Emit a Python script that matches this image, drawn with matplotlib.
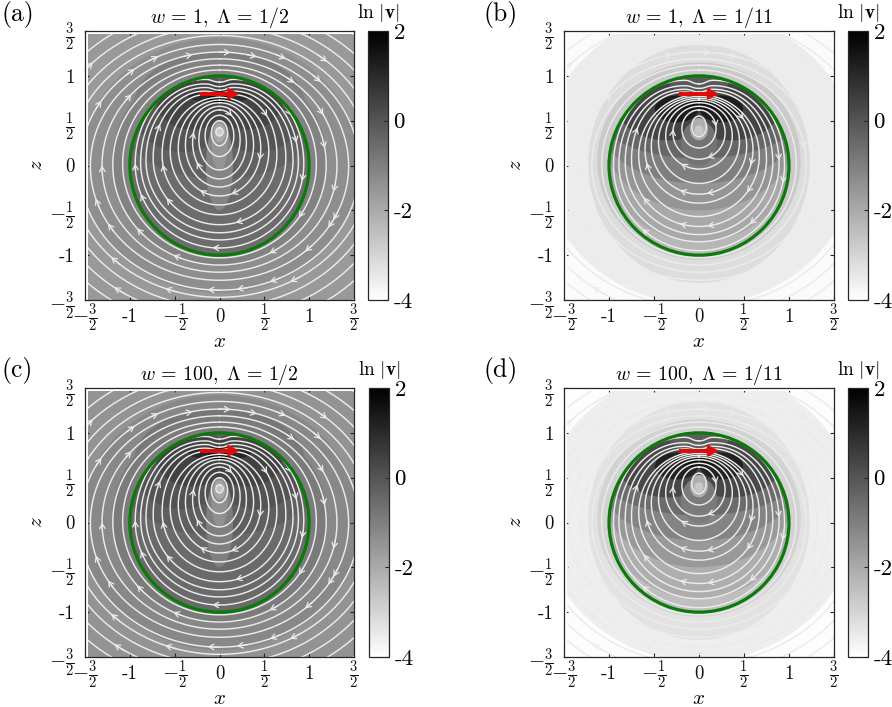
import numpy as np
import matplotlib
matplotlib.use("Agg")
import matplotlib.pyplot as plt
from matplotlib.cm import ScalarMappable
from matplotlib.colors import Normalize
from matplotlib.patches import Circle

plt.rcParams['font.family'] = ['cmr10', 'DejaVu Sans']
plt.rcParams['mathtext.fontset'] = 'cm'
plt.rcParams['axes.formatter.use_mathtext'] = True

# --- DATA ---
titles = [r'$w\,=\,1,\;\Lambda\,=\,1/2$', r'$w\,=\,1,\;\Lambda\,=\,1/11$',
          r'$w\,=\,100,\;\Lambda\,=\,1/2$', r'$w\,=\,100,\;\Lambda\,=\,1/11$']
panel_tags = ['(a)', '(b)', '(c)', '(d)']
tick_vals = [-1.5, -1, -0.5, 0, 0.5, 1, 1.5]
x_tick_text = [r'$-\frac{3}{2}$', '-1', r'$-\frac{1}{2}$', '0', r'$\frac{1}{2}$', '1', r'$\frac{3}{2}$']
cbar_vals = [-4, -2, 0, 2]
cbar_text = ['-4', '-2', '0', '2']

# streamlines outside the drop
out_top = [1.065, 1.12, 1.19, 1.265, 1.35, 1.45, 1.55, 1.66, 1.78, 1.92]
out_bottom = [-1.03, -1.11, -1.19, -1.28, -1.39, -1.47, -1.58, -1.70, -1.83, -1.97]
out_half = [1.08, 1.19, 1.31, 1.44, 1.56, 1.68, 1.80, 1.95, 2.10, 2.30]

# streamlines inside the drop, Lambda = 1/2
in_top_wide = [0.42, 0.50, 0.56, 0.62, 0.66, 0.70, 0.73, 0.76, 0.79, 0.83, 0.87, 0.91, 0.96]
in_bottom_wide = [0.33, 0.22, 0.10, -0.05, -0.15, -0.24, -0.34, -0.44, -0.55, -0.66, -0.75, -0.83, -0.92]
in_half_wide = [0.04, 0.09, 0.16, 0.23, 0.30, 0.38, 0.46, 0.55, 0.64, 0.74, 0.82, 0.88, 0.94]
in_dip_wide = [0, 0, 0, 0, 0, 0, 0, 0, 0.01, 0.02, 0.03, 0.03, 0.03]

# streamlines inside the drop, Lambda = 1/11
in_top_thin = [0.55, 0.62, 0.66, 0.70, 0.73, 0.75, 0.77, 0.79, 0.82, 0.85, 0.89, 0.95]
in_bottom_thin = [0.32, 0.195, 0.07, -0.04, -0.20, -0.32, -0.42, -0.57, -0.68, -0.77, -0.85, -0.95]
in_half_thin = [0.08, 0.19, 0.29, 0.37, 0.45, 0.53, 0.60, 0.67, 0.75, 0.82, 0.89, 0.95]
in_dip_thin = [0, 0, 0, 0, 0, 0, 0, 0, 0.02, 0.03, 0.03, 0.04]

# arrowheads on the streamlines
arrow_out_x = [-1.39, -0.96, -0.66, -0.31, 0.04, 0.40, 0.78, 1.21, 1.13, -1.02, -1.35, 1.16, 1.21,
               -1.31, -1.33, 1.27, -1.28, 1.23, -1.24, 1.25, -0.61, -1.22, -0.16, 0.19, 0.55, 0.79]
arrow_out_z = [1.12, 1.10, 1.18, 1.20, 1.23, 1.23, 1.21, 1.12, 0.90, 0.80, 0.74, 0.54, 0.19,
               0.02, -0.33, -0.27, -0.70, -0.57, -1.05, -0.72, -1.41, -1.41, -1.37, -1.36, -1.33, -1.33]
arrow_wide_x = [0.82, 0.82, 0.51, 0.84, 0.15, 0.49, -1.00, -0.59, -0.29, -0.66, -0.29, 0.92, -0.92,
                -0.57, -0.22, 0.12, -0.92, 0.19, 0.92, -0.51, 0.56, 0.92, -0.07]
arrow_wide_z = [0.88, 0.56, 0.54, 0.27, 0.56, 0.06, 0.02, 0.02, 0.02, 0.47, 0.38, -0.18, -0.35,
                -0.35, -0.27, -0.31, -0.68, -0.63, -0.61, -1.02, -1.00, -0.92, -0.96]
arrow_thin_x = [-0.62, -0.66, -0.30, 0.16, 0.51, 0.09, -0.19, 0.55, 0.86, 0.92, -0.60, -0.21, 0.09,
                0.55, -0.19, 0.09, 0.55, -0.62]
arrow_thin_z = [0.02, 0.41, 0.41, 0.43, 0.52, 0.10, 0.02, 0.02, 0.06, -0.20, -0.33, -0.27, -0.30,
                -0.30, -0.62, -0.64, -0.66, -0.68]

# grey bands of ln|v|, Lambda = 1/2 (outside, then clipped to the drop)
band_out_top_wide = [3.0, 1.42, 1.27, 1.18]
band_out_bottom_wide = [-3.0, -1.42, 0.10, -1.12]
band_out_half_wide = [3.0, 1.55, 0.95, 1.20]
band_out_a = [-1.60, -1.35, -0.95, -1.05]
band_out_c = [-1.45, -1.20, -0.80, -0.90]
band_in_x_wide = [0, 0, -0.42, 0.42, -0.30, 0.30, 0, 0, 0, 0, 0, 0]
band_in_top_wide = [1.10, 1.10, 1.10, 1.10, 1.00, 1.00, 0.85, 0.79, 0.50, 0.50, 0.47, 0.42]
band_in_bottom_wide = [-1.10, -0.15, 0.15, 0.15, 0.40, 0.40, 0.70, 0.70, -0.50, -0.05, 0.26, 0.32]
band_in_half_wide = [1.10, 1.10, 0.55, 0.55, 0.40, 0.40, 0.35, 0.14, 0.15, 0.09, 0.065, 0.03]
band_in_a = [-0.55, -0.30, 0.00, 0.00, 0.40, 0.40, 1.00, 2.00, -1.10, -1.50, -2.00, -2.80]
band_in_c = [-0.50, -0.25, 0.05, 0.05, 0.45, 0.45, 1.10, 2.00, -1.00, -1.40, -1.90, -2.60]

# grey bands of ln|v|, Lambda = 1/11
band_out_top_thin = [3.0, 1.70, 1.35, 1.15]
band_out_bottom_thin = [-3.0, -1.55, -1.31, -1.05]
band_out_half_thin = [3.0, 1.75, 1.23, 1.13]
band_out_b = [-3.90, -3.55, -3.20, -2.75]
band_out_d = [-3.95, -3.60, -3.30, -2.95]
band_in_x_thin = [0, 0, 0, 0, 0, -0.35, 0.35, 0, -0.25, 0.25, 0, 0, 0, 0]
band_in_top_thin = [1.10, 1.10, 1.10, 1.10, 1.10, 1.00, 1.00, 1.10, 0.78, 0.78, 0.78, 0.50, 0.53, 0.45]
band_in_bottom_thin = [-1.10, -0.85, -0.50, -0.20, 0.08, 0.28, 0.28, 0.80, 0.48, 0.48, 0.62, 0.00, 0.28, 0.33]
band_in_half_thin = [1.10, 1.05, 1.05, 1.10, 1.15, 0.55, 0.55, 0.34, 0.24, 0.24, 0.30, 0.20, 0.10, 0.05]
band_in_b = [-2.30, -1.95, -1.50, -1.00, -0.40, 0.40, 0.40, -0.10, 1.30, 1.30, 1.60, -0.70, -2.10, -2.70]
band_in_d = [-2.50, -2.10, -1.60, -1.10, -0.55, 0.30, 0.30, -0.20, 1.20, 1.20, 1.60, -0.90, -2.10, -2.70]

# red swimmer
swim_x = [-0.22, 0.22]
swim_z = 0.80

norm = Normalize(-4, 2)
cmap = plt.get_cmap('gray_r')
dark = '#262626'


def bezier(p0, p1, p2, p3, n=40):
    t = np.linspace(0, 1, n)[:, None]
    p0, p1, p2, p3 = map(np.array, (p0, p1, p2, p3))
    return (1-t)**3*p0 + 3*(1-t)**2*t*p1 + 3*(1-t)*t**2*p2 + t**3*p3


def egg(xc, top, bottom, half, dip=0):
    # closed loop through the top, widest and bottom readings
    mid = (top + bottom) / 2
    d = min(0.16, half / 2) if dip > 0 else 0
    parts = []
    if dip > 0:
        parts.append(bezier((0, top-dip), (d*0.5, top-dip), (d*0.5, top), (d, top), 12))
    parts.append(bezier((d, top), (d+0.56*(half-d), top), (half, mid+0.56*(top-mid)), (half, mid)))
    parts.append(bezier((half, mid), (half, mid-0.55*(mid-bottom)), (0.55*half, bottom), (0, bottom)))
    right = np.vstack(parts)
    left = right[::-1][1:] * [-1, 1]
    pts = np.vstack([right, left])
    return pts[:, 0] + xc, pts[:, 1]


def draw_panel(ax, cax, idx, out_vals, in_vals, geom):
    ot, ob, oh, ix, it, ib, ih, st, sb, sh, sd, ax_x, ax_z = geom
    for t, b, h, v in zip(ot, ob, oh, out_vals):
        x, z = egg(0, t, b, h)
        ax.fill(x, z, color=cmap(norm(v)), lw=0, zorder=1)
    drop_clip = Circle((0, 0), 1.0, transform=ax.transData)
    for xc, t, b, h, v in zip(ix, it, ib, ih, in_vals):
        x, z = egg(xc, t, b, h)
        for p in ax.fill(x, z, color=cmap(norm(v)), lw=0, zorder=1.1):
            p.set_clip_path(drop_clip)

    loops = []
    for t, b, h in zip(out_top, out_bottom, out_half):
        loops.append(egg(0, t, b, h))
    for t, b, h, d in zip(st, sb, sh, sd):
        loops.append(egg(0, t, b, h, d))
    for x, z in loops:
        ax.plot(x, z, color='#ebebeb', lw=1.05, zorder=2, solid_capstyle='round')

    # arrowheads snap on the nearest streamline
    for px, pz in zip(arrow_out_x + ax_x, arrow_out_z + ax_z):
        best = min(loops, key=lambda c: np.min((c[0]-px)**2 + (c[1]-pz)**2))
        k = int(np.argmin((best[0]-px)**2 + (best[1]-pz)**2))
        k = max(k, 2)
        ax.annotate('', xy=(best[0][k], best[1][k]), xytext=(best[0][k-2], best[1][k-2]),
                    arrowprops=dict(arrowstyle='->,head_length=0.35,head_width=0.2', lw=0.9,
                                    color='#ebebeb', shrinkA=0, shrinkB=0), zorder=2.1)

    # thin white strip left and on top, where the field stops
    ax.axvspan(-1.5, -1.47, color='white', lw=0, zorder=2.5)
    ax.axhspan(1.47, 1.5, color='white', lw=0, zorder=2.5)

    ax.add_patch(Circle((0, 0), 1.0, fill=False, ec='#0b7a0b', lw=2.3, zorder=3))
    ax.plot([swim_x[0], swim_x[1]-0.05], [swim_z, swim_z], color='#e00c0c', lw=2.9, zorder=4,
            solid_capstyle='butt')
    ax.annotate('', xy=(swim_x[1], swim_z), xytext=(swim_x[1]-0.2, swim_z),
                arrowprops=dict(arrowstyle='-|>,head_length=0.7,head_width=0.38', lw=1.0,
                                color='#e00c0c', shrinkA=0, shrinkB=0), zorder=4)

    ax.set_xlim(-1.5, 1.5)
    ax.set_ylim(-1.5, 1.5)
    ax.set_xticks(tick_vals)
    ax.set_yticks(tick_vals)
    ax.set_xticklabels(x_tick_text)
    ax.set_yticklabels(x_tick_text)
    ax.tick_params(direction='in', length=3, width=0.8, color=dark, top=True, right=True,
                   labelsize=13.5, labelcolor='#111111')
    ax.tick_params(axis='x', pad=12.5)
    ax.tick_params(axis='y', pad=7.5)
    for lab in ax.get_xticklabels():
        lab.set_va('center')
    for lab in ax.get_xticklabels() + ax.get_yticklabels():
        if 'frac' in lab.get_text():
            lab.set_fontsize(15)
    for s in ax.spines.values():
        s.set_color(dark)
        s.set_linewidth(0.9)
        s.set_zorder(6)
    ax.set_xlabel('$x$', fontsize=15, va='center')
    ax.set_ylabel('$z$', fontsize=15, va='center')
    ax.xaxis.set_label_coords(0.5, -0.155)
    ax.yaxis.set_label_coords(-0.178, 0.5)
    ax.set_title(titles[idx], fontsize=14.3, pad=6)

    cb = ax.figure.colorbar(ScalarMappable(norm=norm, cmap=cmap), cax=cax)
    cb.set_ticks(cbar_vals)
    cb.set_ticklabels(cbar_text)
    cb.ax.tick_params(direction='in', length=3, width=0.8, color=dark, labelsize=16.5, pad=4)
    cb.outline.set_edgecolor(dark)
    cb.outline.set_linewidth(0.9)
    cax.text(0.5, 1.068, r'$\ln\,|\mathbf{v}|$', transform=cax.transAxes, ha='center', va='center',
             fontsize=14)


W, H = 892, 707
fig = plt.figure(figsize=(W/100, H/100), dpi=100)


def box(l, r, t, b):
    return [l/W, 1-b/H, (r-l)/W, (b-t)/H]


ax_boxes = [(85, 354, 31, 300), (564, 834, 31, 300), (85, 354, 388, 657), (564, 834, 388, 657)]
cb_boxes = [(368, 388, 31, 300), (848, 868, 31, 300), (369, 389, 388, 657), (848, 868, 388, 657)]
tag_pos = [(1, 15), (484, 15), (1, 371), (484, 371)]

wide = (band_out_top_wide, band_out_bottom_wide, band_out_half_wide, band_in_x_wide, band_in_top_wide,
        band_in_bottom_wide, band_in_half_wide, in_top_wide, in_bottom_wide, in_half_wide, in_dip_wide,
        arrow_wide_x, arrow_wide_z)
thin = (band_out_top_thin, band_out_bottom_thin, band_out_half_thin, band_in_x_thin, band_in_top_thin,
        band_in_bottom_thin, band_in_half_thin, in_top_thin, in_bottom_thin, in_half_thin, in_dip_thin,
        arrow_thin_x, arrow_thin_z)
out_sets = [band_out_a, band_out_b, band_out_c, band_out_d]
in_sets = [band_in_a, band_in_b, band_in_c, band_in_d]
geoms = [wide, thin, wide, thin]

for i in range(4):
    ax = fig.add_axes(box(*ax_boxes[i]))
    cax = fig.add_axes(box(*cb_boxes[i]))
    draw_panel(ax, cax, i, out_sets[i], in_sets[i], geoms[i])
    fig.text(tag_pos[i][0]/W, 1-tag_pos[i][1]/H, panel_tags[i], fontsize=18.5, ha='left', va='center')

fig.savefig('out.png', dpi=100)
